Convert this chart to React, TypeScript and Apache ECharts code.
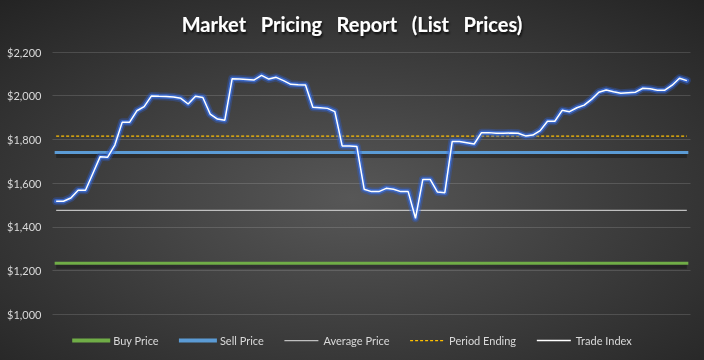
import React, { useEffect, useRef } from "react";
import * as echarts from "echarts";

const titleText = "Market   Pricing   Report   (List   Prices)";
const seriesNames = ["Buy Price", "Sell Price", "Average Price", "Period Ending", "Trade Index"];
const yTicks = { min: 1000, max: 2200, interval: 200 };

const buyPrice = 1233;
const sellPrice = 1740;
const averagePrice = 1475;
const periodEnding = 1815;

const tradeIndex = [
  1517, 1517, 1532, 1567, 1567, 1644, 1721, 1718, 1774, 1878, 1878, 1931, 1950, 1999, 1997, 1996,
  1994, 1988, 1962, 1997, 1992, 1916, 1893, 1888, 2078, 2076, 2074, 2072, 2093, 2076, 2084, 2069,
  2052, 2050, 2049, 1947, 1945, 1942, 1927, 1770, 1770, 1768, 1572, 1561, 1561, 1576, 1572, 1561,
  1561, 1439, 1617, 1617, 1559, 1556, 1790, 1790, 1785, 1779, 1831, 1831, 1828, 1828, 1829, 1828,
  1816, 1820, 1840, 1883, 1883, 1933, 1927, 1945, 1957, 1983, 2016, 2026, 2018, 2011, 2014, 2016,
  2034, 2032, 2025, 2025, 2048, 2080, 2069,
];

const categories = tradeIndex.map((_, i) => String(i + 1));

const FONT = "Lato, 'Open Sans', sans-serif";

const COLORS = {
  buy: "#70ad47",
  sell: "#5b9bd5",
  avg: "#bfbfbf",
  period: "#ffc000",
  trade: "#ffffff",
};

export default function App() {
  const ref = useRef<HTMLDivElement>(null);

  useEffect(() => {
    if (!ref.current) return;
    const chart = echarts.init(ref.current, undefined, { renderer: "svg" });
    const last = categories.length - 1;
    const flat = (v: number) => [
      [0, v],
      [last, v],
    ];
    const hiddenX = (gridIndex: number) => ({
      type: "category",
      gridIndex,
      data: categories,
      boundaryGap: true,
      axisLine: { show: false },
      axisTick: { show: false },
      axisLabel: { show: false },
      splitLine: { show: false },
    });
    chart.setOption({
      animation: false,
      backgroundColor: {
        type: "radial",
        x: 0.5,
        y: 0.55,
        r: 0.75,
        colorStops: [
          { offset: 0, color: "#575757" },
          { offset: 1, color: "#232323" },
        ],
      },
      title: {
        text: titleText,
        left: "center",
        top: 9,
        textStyle: {
          color: "#ffffff",
          fontFamily: FONT,
          fontWeight: "bold",
          fontSize: 20,
          textShadowColor: "rgba(0,0,0,0.8)",
          textShadowBlur: 2,
          textShadowOffsetX: 1,
          textShadowOffsetY: 2,
        },
      },
      legend: {
        data: [
          { name: seriesNames[0], lineStyle: { width: 4, color: COLORS.buy } },
          { name: seriesNames[1], lineStyle: { width: 4, color: COLORS.sell } },
          { name: seriesNames[2], lineStyle: { width: 1.25, color: COLORS.avg } },
          { name: seriesNames[3], lineStyle: { width: 1.25, color: COLORS.period, type: [3, 2] } },
          { name: seriesNames[4], lineStyle: { width: 1.5, color: COLORS.trade } },
        ],
        top: 330,
        left: "center",
        itemWidth: 34,
        itemHeight: 14,
        itemGap: 20,
        itemStyle: { opacity: 0 },
        textStyle: { color: "#d9d9d9", fontFamily: FONT, fontSize: 11 },
      },
      grid: [
        { left: 52.5, right: 13.5, top: 52, bottom: 45.8 },
        { left: 52.5, right: 13.5, top: 55, bottom: 42.8 },
      ],
      xAxis: [hiddenX(0), hiddenX(1)],
      yAxis: [
        {
          type: "value",
          gridIndex: 0,
          min: yTicks.min,
          max: yTicks.max,
          interval: yTicks.interval,
          axisLine: { show: false },
          axisTick: { show: false },
          axisLabel: {
            color: "#d9d9d9",
            fontFamily: FONT,
            fontSize: 11,
            margin: 11,
            formatter: (v: number) => "$" + v.toLocaleString("en-US"),
          },
          splitLine: { lineStyle: { color: "rgba(255,255,255,0.14)", width: 1 } },
        },
        {
          type: "value",
          gridIndex: 1,
          min: yTicks.min,
          max: yTicks.max,
          interval: yTicks.interval,
          axisLine: { show: false },
          axisTick: { show: false },
          axisLabel: { show: false },
          splitLine: { show: false },
        },
      ],
      series: [
        {
          name: "Buy Price shadow",
          type: "line",
          xAxisIndex: 1,
          yAxisIndex: 1,
          data: flat(buyPrice),
          symbol: "none",
          silent: true,
          lineStyle: { color: "rgba(0,0,0,0.3)", width: 5 },
        },
        {
          name: "Sell Price shadow",
          type: "line",
          xAxisIndex: 1,
          yAxisIndex: 1,
          data: flat(sellPrice),
          symbol: "none",
          silent: true,
          lineStyle: { color: "rgba(0,0,0,0.3)", width: 5 },
        },
        {
          name: seriesNames[0],
          type: "line",
          data: flat(buyPrice),
          symbol: "none",
          lineStyle: { color: COLORS.buy, width: 3, cap: "square" },
          itemStyle: { color: COLORS.buy },
        },
        {
          name: seriesNames[1],
          type: "line",
          data: flat(sellPrice),
          symbol: "none",
          lineStyle: { color: COLORS.sell, width: 3, cap: "square" },
          itemStyle: { color: COLORS.sell },
        },
        {
          name: seriesNames[2],
          type: "line",
          data: flat(averagePrice),
          symbol: "none",
          lineStyle: { color: COLORS.avg, width: 1.25 },
          itemStyle: { color: COLORS.avg },
        },
        {
          name: seriesNames[3],
          type: "line",
          data: flat(periodEnding),
          symbol: "none",
          lineStyle: { color: COLORS.period, width: 1.25, type: [3, 2] },
          itemStyle: { color: COLORS.period },
        },
        {
          name: "Trade Index glow outer",
          type: "line",
          data: tradeIndex,
          symbol: "none",
          silent: true,
          lineStyle: { color: "rgba(45,95,210,0.35)", width: 8, join: "round", cap: "round" },
        },
        {
          name: "Trade Index glow inner",
          type: "line",
          data: tradeIndex,
          symbol: "none",
          silent: true,
          lineStyle: { color: "rgba(60,115,230,0.75)", width: 4.5, join: "round", cap: "round" },
        },
        {
          name: seriesNames[4],
          type: "line",
          data: tradeIndex,
          symbol: "none",
          lineStyle: { color: COLORS.trade, width: 1.5 },
          itemStyle: { color: COLORS.trade },
        },
      ],
    });
    return () => chart.dispose();
  }, []);

  return (
    <div
      ref={ref}
      style={{ position: "fixed", left: 0, top: 0, width: 704, height: 360 }}
    />
  );
}
